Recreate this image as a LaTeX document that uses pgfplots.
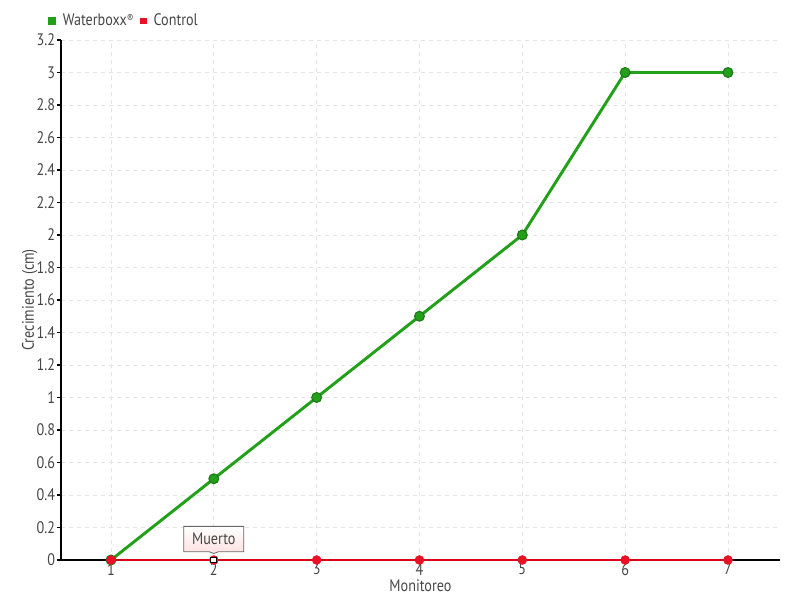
\documentclass[border=0pt]{standalone}
\usepackage{pgfplots}
\pgfplotsset{compat=1.18}
\usepackage{fontspec}
\setmainfont[FakeStretch=0.85]{PT Sans}
\usetikzlibrary{shapes.callouts}
\definecolor{wgreen}{RGB}{34,160,26}
\definecolor{wgreendark}{RGB}{30,120,24}
\definecolor{cred}{RGB}{232,18,36}
\definecolor{credline}{RGB}{215,0,20}
\definecolor{txtgray}{RGB}{70,70,70}
\definecolor{gridgray}{RGB}{228,228,228}
\begin{document}
\begin{tikzpicture}
\useasboundingbox (0,0) rectangle (600pt,450pt);
\begin{axis}[
  at={(45.75pt,30pt)}, anchor=south west,
  scale only axis, width=539.25pt, height=390pt,
  xmin=0.514, xmax=7.506, ymin=0, ymax=3.2,
  axis lines=left, axis line style={-, black, line width=0.9pt},
  xtick={1,...,7},
  ytick={0,0.2,...,3.21},
  yticklabels={0,0.2,0.4,0.6,0.8,1,1.2,1.4,1.6,1.8,2,2.2,2.4,2.6,2.8,3,3.2},
  major x tick style={draw=none},
  major y tick style={black, line width=0.9pt},
  tick align=outside, major tick length=3pt,
  grid=major, major grid style={gridgray, dash pattern=on 3pt off 3pt, line width=0.7pt},
  tick label style={font=\fontsize{12.5}{14}\selectfont, text=txtgray},
  xticklabel style={inner sep=0pt, yshift=0.8pt},
  yticklabel style={inner sep=1.2pt},
  /pgf/number format/assume math mode=true,
  xlabel={Monitoreo}, ylabel={Crecimiento (cm)},
  every axis x label/.style={at={(axis description cs:0.5,0)}, yshift=-19.5pt, anchor=center,
    font=\fontsize{12.5}{14}\selectfont, text=txtgray, inner sep=0pt},
  every axis y label/.style={at={(axis description cs:0,0.5)}, xshift=-23.5pt, rotate=90, anchor=center,
    font=\fontsize{12.5}{14}\selectfont, text=txtgray, inner sep=0pt},
  legend style={at={(axis description cs:0,1)}, anchor=south west, xshift=-10pt, yshift=7pt,
    draw=none, fill=none, font=\fontsize{12.5}{14}\selectfont, text=txtgray,
    column sep=3pt, inner sep=0pt},
  legend columns=2,
  clip=false,
]
\addplot[wgreen, line width=2.2pt, mark=*, mark size=3.7pt,
  mark options={fill=wgreen, draw=wgreendark, line width=0.8pt},
  legend image code/.code={\fill[wgreen] (0pt,-2pt) rectangle (4pt,2pt);}]
  coordinates {(1,0) (2,0.5) (3,1) (4,1.5) (5,2) (6,3) (7,3)};
\addlegendentry{Waterboxx\raisebox{2.5pt}{\fontsize{8.5}{9}\selectfont ®}}
\addplot[credline, line width=0.9pt, mark=*, mark size=3.3pt,
  mark options={fill=cred, draw=cred, line width=0.5pt},
  legend image code/.code={\fill[cred] (0pt,-2pt) rectangle (4pt,2pt);}]
  coordinates {(1,0) (2,0) (3,0) (4,0) (5,0) (6,0) (7,0)};
\addlegendentry{Control}
\addplot[forget plot, only marks, mark=square*, mark size=2.2pt,
  mark options={fill=white, draw=black, line width=0.8pt}]
  coordinates {(2,0)};
\node[rectangle callout, callout absolute pointer={(axis cs:2,0.04)},
  draw=gray!80!black, line width=0.6pt, top color=white, bottom color=red!12,
  minimum width=45pt, minimum height=19pt, inner sep=2pt,
  font=\fontsize{12.5}{14}\selectfont, text=txtgray] at (axis cs:2,0.129) {Muerto};
\end{axis}
\end{tikzpicture}
\end{document}
